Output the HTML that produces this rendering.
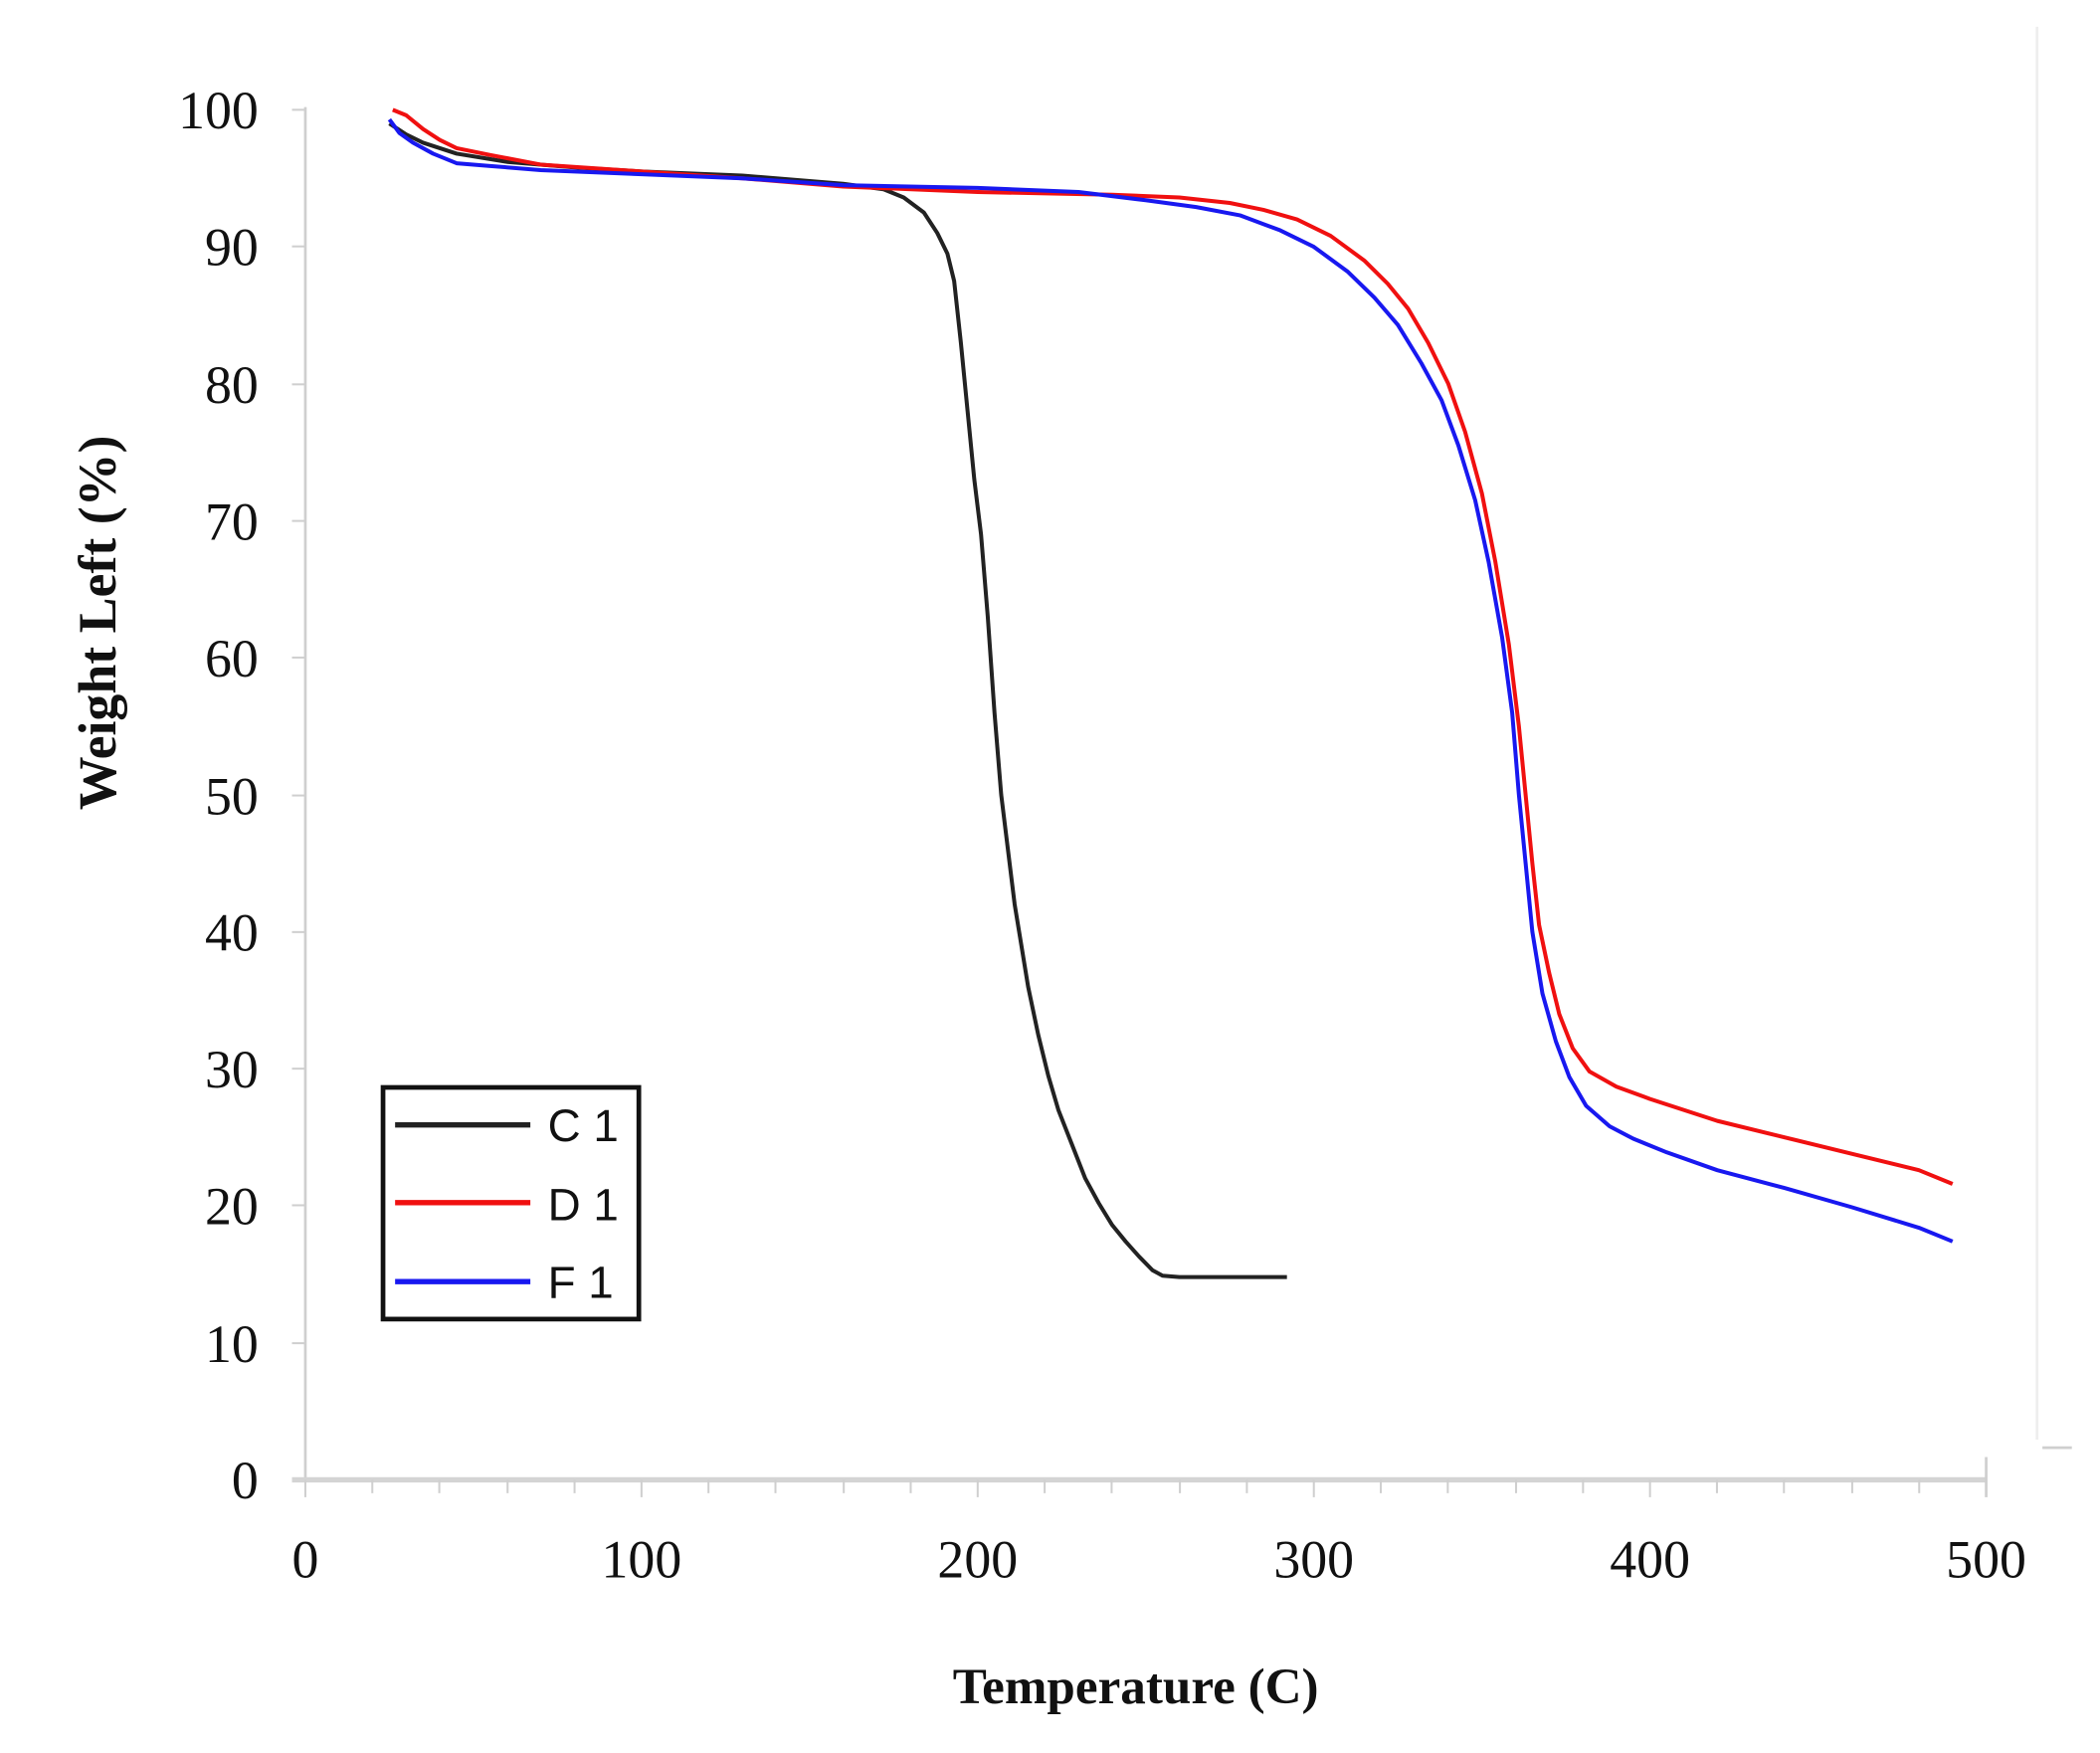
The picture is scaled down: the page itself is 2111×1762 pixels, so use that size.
<!DOCTYPE html>
<html><head><meta charset="utf-8"><style>
html,body{margin:0;padding:0;background:#fff;width:2111px;height:1762px;overflow:hidden}
svg{display:block}
</style></head><body>
<svg width="2111" height="1762" viewBox="0 0 1568 1309" preserveAspectRatio="none" xmlns="http://www.w3.org/2000/svg">
<rect width="1568" height="1309" fill="#fff"/>
<line x1="228" y1="80" x2="228" y2="1105" stroke="#cfcfcf" stroke-width="2"/>
<line x1="218" y1="1105" x2="1483" y2="1105" stroke="#d4d4d4" stroke-width="4"/>
<line x1="1483" y1="1088" x2="1483" y2="1118" stroke="#cfcfcf" stroke-width="2"/>
<line x1="1521" y1="20" x2="1521" y2="1075" stroke="#eeeeee" stroke-width="2"/>
<line x1="1525" y1="1081" x2="1547" y2="1081" stroke="#cfcfcf" stroke-width="2"/>
<g stroke="#cfcfcf" stroke-width="1.5">
<line x1="218" y1="82" x2="228" y2="82"/><line x1="218" y1="184" x2="228" y2="184"/><line x1="218" y1="287" x2="228" y2="287"/><line x1="218" y1="389" x2="228" y2="389"/><line x1="218" y1="491" x2="228" y2="491"/><line x1="218" y1="594" x2="228" y2="594"/><line x1="218" y1="696" x2="228" y2="696"/><line x1="218" y1="798" x2="228" y2="798"/><line x1="218" y1="900" x2="228" y2="900"/><line x1="218" y1="1003" x2="228" y2="1003"/>
<line x1="228" y1="1105" x2="228" y2="1118"/><line x1="278" y1="1105" x2="278" y2="1115"/><line x1="328" y1="1105" x2="328" y2="1115"/><line x1="379" y1="1105" x2="379" y2="1115"/><line x1="429" y1="1105" x2="429" y2="1115"/><line x1="479" y1="1105" x2="479" y2="1118"/><line x1="529" y1="1105" x2="529" y2="1115"/><line x1="579" y1="1105" x2="579" y2="1115"/><line x1="630" y1="1105" x2="630" y2="1115"/><line x1="680" y1="1105" x2="680" y2="1115"/><line x1="730" y1="1105" x2="730" y2="1118"/><line x1="780" y1="1105" x2="780" y2="1115"/><line x1="830" y1="1105" x2="830" y2="1115"/><line x1="881" y1="1105" x2="881" y2="1115"/><line x1="931" y1="1105" x2="931" y2="1115"/><line x1="981" y1="1105" x2="981" y2="1118"/><line x1="1031" y1="1105" x2="1031" y2="1115"/><line x1="1081" y1="1105" x2="1081" y2="1115"/><line x1="1132" y1="1105" x2="1132" y2="1115"/><line x1="1182" y1="1105" x2="1182" y2="1115"/><line x1="1232" y1="1105" x2="1232" y2="1118"/><line x1="1282" y1="1105" x2="1282" y2="1115"/><line x1="1332" y1="1105" x2="1332" y2="1115"/><line x1="1383" y1="1105" x2="1383" y2="1115"/><line x1="1433" y1="1105" x2="1433" y2="1115"/>
</g>
<g font-family="Liberation Serif, serif" font-size="40" fill="#111" text-anchor="end">
<text x="193" y="96">100</text><text x="193" y="198">90</text><text x="193" y="301">80</text><text x="193" y="403">70</text><text x="193" y="505">60</text><text x="193" y="608">50</text><text x="193" y="710">40</text><text x="193" y="812">30</text><text x="193" y="914">20</text><text x="193" y="1017">10</text><text x="193" y="1119">0</text>
</g>
<g font-family="Liberation Serif, serif" font-size="40" fill="#111" text-anchor="middle">
<text x="228" y="1178">0</text><text x="479" y="1178">100</text><text x="730" y="1178">200</text><text x="981" y="1178">300</text><text x="1232" y="1178">400</text><text x="1483" y="1178">500</text>
</g>
<text x="848" y="1272" font-family="Liberation Serif, serif" font-size="38" font-weight="bold" text-anchor="middle" fill="#111">Temperature (C)</text>
<text transform="translate(86,465) rotate(-90)" font-family="Liberation Serif, serif" font-size="40" font-weight="bold" text-anchor="middle" fill="#111">Weight Left (%)</text>
<g transform="translate(228,1105) scale(2.51,-10.23)" fill="none" stroke-width="4" stroke-linejoin="round">
<polyline vector-effect="non-scaling-stroke" stroke="#222" points="25,99 30,98.2 35,97.6 45,96.8 60,96.2 80,95.8 100,95.5 130,95.2 160,94.6 172,94.2 178,93.6 184,92.5 188,91 191,89.5 193,87.5 195,83 197,78 199,73 201,69 203,63 205,56 207,50 209,46 211,42 213,39 215,36 218,32.5 221,29.5 224,27 228,24.5 232,22 236,20.2 240,18.6 244,17.4 248,16.3 252,15.3 255,14.9 260,14.8 292,14.8"/>
<polyline vector-effect="non-scaling-stroke" stroke="#f01010" points="26,100 30,99.6 35,98.6 40,97.8 45,97.2 55,96.7 70,96 100,95.5 130,95 160,94.4 200,94 240,93.8 260,93.6 275,93.2 285,92.7 295,92 305,90.8 315,89 322,87.3 328,85.5 334,83 340,80 345,76.5 350,72 354,67 358,61 361,55 363,50 365,45 367,40.5 370,37 373,34 377,31.5 382,29.8 390,28.7 400,27.8 420,26.2 440,25 460,23.8 480,22.6 490,21.6"/>
<polyline vector-effect="non-scaling-stroke" stroke="#1818f0" points="25,99.3 28,98.3 32,97.6 38,96.8 45,96.1 55,95.9 70,95.6 100,95.3 130,95 160,94.5 200,94.3 230,94 250,93.4 265,92.9 278,92.3 290,91.2 300,90 310,88.2 318,86.3 325,84.3 332,81.5 338,78.8 343,75.5 348,71.5 352,67 356,61.5 359,56 361,50 363,45 365,40 368,35.5 372,32 376,29.4 381,27.3 388,25.8 395,24.9 405,23.9 420,22.6 440,21.3 460,19.9 480,18.4 490,17.4"/>
</g>
<rect x="286" y="812" width="191" height="173" fill="#fff" stroke="#111" stroke-width="3.5"/>
<line x1="295" y1="840" x2="396" y2="840" stroke="#222" stroke-width="4"/>
<line x1="295" y1="898" x2="396" y2="898" stroke="#f01010" stroke-width="4"/>
<line x1="295" y1="957" x2="396" y2="957" stroke="#1818f0" stroke-width="4"/>
<g font-family="Liberation Sans, sans-serif" font-size="34" fill="#111">
<text x="409" y="852">C 1</text><text x="409" y="911">D 1</text><text x="409" y="969">F 1</text>
</g>
</svg>
</body></html>
